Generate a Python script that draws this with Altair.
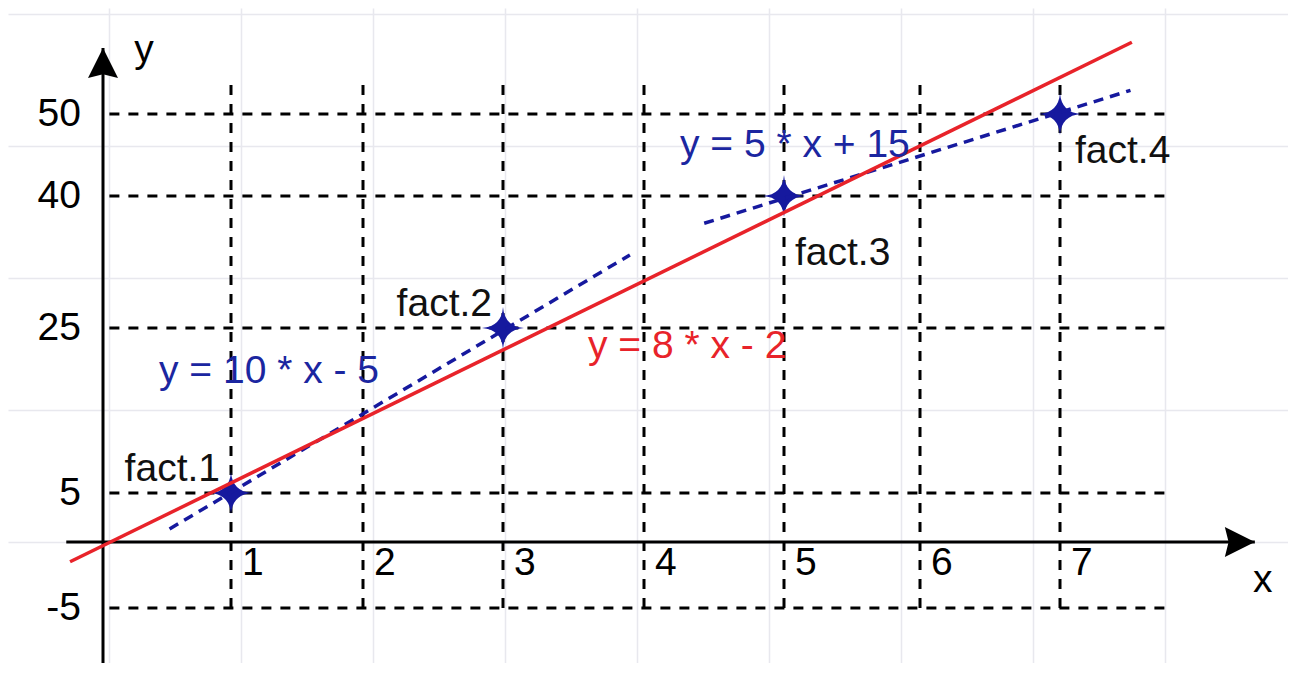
import altair as alt
import pandas as pd

# ---------------- data ----------------
fact_labels = ["fact.1", "fact.2", "fact.3", "fact.4"]
fact_x = [1, 3, 5, 7]
fact_y = [5, 25, 40, 50]

x_ticks = [1, 2, 3, 4, 5, 6, 7]
y_ticks = [50, 40, 25, 5, -5]
y_tick_labels = ["50", "40", "25", "5", "-5"]

red_x = [-0.26, 7.52]
red_y = [-1.5, 58.8]
blue1_x = [0.52, 3.90]
blue1_y = [1.33, 33.3]
blue2_x = [4.43, 7.51]
blue2_y = [36.9, 52.9]

eq_texts = ["y = 10 * x - 5", "y = 8 * x - 2", "y = 5 * x + 15"]

grid_h_span = [0.05, 7.76]     # extent of the horizontal dashed lines (x)
grid_v_span = [-5, 53.8]       # extent of the vertical dashed lines (y)
x_axis_span = [-0.29, 8.41]
y_axis_span = [-10, 58.1]
axis_names = ["x", "y"]

# ---------------- styling ----------------
FONT = "Liberation Sans"
FS = 39
BLUE = "#16199e"
BLUE_TXT = "#1b26a0"
RED = "#e8232a"
W, H = 1280, 655

# hand-drawn (uneven) spacing of the original grid -> piecewise linear scales
XS = alt.Scale(domain=[-0.75, 0, 1, 2, 3, 4, 5, 6, 7, 8.65],
               range=[0, 95, 223, 355, 495, 636, 776, 912, 1052, W],
               nice=False, zero=False)
YS = alt.Scale(domain=[-10, -5, 0, 5, 25, 40, 50, 63],
               range=[H, 600, 534, 485, 320, 188, 106, 0],
               nice=False, zero=False)


def X(f):
    return alt.X(f, type="quantitative", scale=XS, axis=None)


def Y(f):
    return alt.Y(f, type="quantitative", scale=YS, axis=None)


# ---------------- background graph paper ----------------
paper = alt.Chart(pd.DataFrame({"p": [0]})).mark_point(opacity=0).encode(
    x=alt.X("p:Q", scale=alt.Scale(domain=[0, W], nice=False, zero=False),
            axis=alt.Axis(values=list(range(101, W, 132)), grid=True, labels=False,
                          ticks=False, domain=False, title=None,
                          gridColor="#e8e8ee", gridWidth=1.5)),
    y=alt.Y("p:Q", scale=alt.Scale(domain=[0, H], reverse=True, nice=False, zero=False),
            axis=alt.Axis(values=list(range(6, H, 132)), grid=True, labels=False,
                          ticks=False, domain=False, title=None,
                          gridColor="#e8e8ee", gridWidth=1.5)),
)

# ---------------- dashed reference grid ----------------
grid_rows = []
for t in y_ticks:
    grid_rows.append({"x": grid_h_span[0], "x2": grid_h_span[1], "y": t, "y2": t})
for t in x_ticks:
    grid_rows.append({"x": t, "x2": t, "y": grid_v_span[0], "y2": grid_v_span[1]})
grid = alt.Chart(pd.DataFrame(grid_rows)).mark_rule(
    color="black", strokeWidth=3, strokeDash=[10, 9]
).encode(x=X("x"), x2="x2", y=Y("y"), y2="y2")

# ---------------- axes with arrows ----------------
axes_df = pd.DataFrame({
    "x": [x_axis_span[0], 0], "x2": [x_axis_span[1], 0],
    "y": [0, y_axis_span[0]], "y2": [0, y_axis_span[1]],
})
axes = alt.Chart(axes_df).mark_rule(color="black", strokeWidth=3).encode(
    x=X("x"), x2="x2", y=Y("y"), y2="y2")

tips_df = pd.DataFrame({
    "x": [x_axis_span[1], 0], "y": [0, y_axis_span[1]],
    "dir": ["right", "up"], "name": axis_names,
})
ARROW_R = "M0,0 L-2,-1 L-1.75,0 L-2,1 Z"
ARROW_U = "M0,0 L1,2 L0,1.75 L-1,2 Z"
arrows = alt.Chart(tips_df).mark_point(filled=True, opacity=1, color="black", strokeWidth=0).encode(
    x=X("x"), y=Y("y"),
    shape=alt.Shape("dir:N", scale=alt.Scale(domain=["right", "up"], range=[ARROW_R, ARROW_U]),
                    legend=None),
    size=alt.value(900),
)
x_name = alt.Chart(tips_df).transform_filter(alt.datum.dir == "right").mark_text(
    font=FONT, fontSize=FS, color="black", align="center", baseline="alphabetic", dx=8, dy=50
).encode(x=X("x"), y=Y("y"), text="name:N")
y_name = alt.Chart(tips_df).transform_filter(alt.datum.dir == "up").mark_text(
    font=FONT, fontSize=FS, color="black", align="center", baseline="alphabetic", dx=41, dy=14
).encode(x=X("x"), y=Y("y"), text="name:N")

# tick labels
xt = alt.Chart(pd.DataFrame({"x": x_ticks, "lab": [str(v) for v in x_ticks]})).transform_calculate(
    y="0").mark_text(font=FONT, fontSize=FS, color="black", align="left",
                     baseline="alphabetic", dx=11, dy=33
                     ).encode(x=X("x"), y=Y("y"), text="lab:N")
yt = alt.Chart(pd.DataFrame({"y": y_ticks, "lab": y_tick_labels})).transform_calculate(
    x="0").mark_text(font=FONT, fontSize=FS, color="black", align="right",
                     baseline="middle", dx=-22
                     ).encode(x=X("x"), y=Y("y"), text="lab:N")

# ---------------- lines ----------------
red_df = pd.DataFrame({"x": red_x, "y": red_y})
red = alt.Chart(red_df).mark_line(color=RED, strokeWidth=3.5).encode(x=X("x"), y=Y("y"))

blue_df = pd.DataFrame({
    "x": blue1_x + blue2_x, "y": blue1_y + blue2_y,
    "s": ["a", "a", "b", "b"],
})
blue = alt.Chart(blue_df).mark_line(color=BLUE, strokeWidth=3.5, strokeDash=[10, 7]).encode(
    x=X("x"), y=Y("y"), detail="s:N")

# ---------------- fact points ----------------
pts = pd.DataFrame({"x": fact_x, "y": fact_y, "label": fact_labels})
STAR = "M0,-1 Q0.07,-0.07 1,0 Q0.07,0.07 0,1 Q-0.07,0.07 -1,0 Q-0.07,-0.07 0,-1 Z"
stars = alt.Chart(pts).mark_point(shape=STAR, filled=True, opacity=1, color=BLUE,
                                  size=1764, strokeWidth=0).encode(x=X("x"), y=Y("y"))


def pt_text(label, text, color, **kw):
    return alt.Chart(pts).transform_filter(alt.datum.label == label).mark_text(
        font=FONT, fontSize=FS, color=color, baseline="alphabetic", **kw
    ).encode(x=X("x"), y=Y("y"), text=text)


labels = [
    pt_text("fact.1", "label:N", "#111111", align="right", dx=-11, dy=-12),
    pt_text("fact.2", "label:N", "#111111", align="right", dx=-11, dy=-12),
    pt_text("fact.3", "label:N", "#111111", align="left", dx=11, dy=69),
    pt_text("fact.4", "label:N", "#111111", align="left", dx=15, dy=49),
    pt_text("fact.1", alt.value(eq_texts[0]), BLUE_TXT, align="left", dx=-72, dy=-110),
    pt_text("fact.2", alt.value(eq_texts[1]), RED, align="left", dx=85, dy=30),
    pt_text("fact.3", alt.value(eq_texts[2]), BLUE_TXT, align="left", dx=-104, dy=-39),
]

main = alt.layer(grid, axes, arrows, stars, blue, red, xt, yt, x_name, y_name, *labels)

chart = alt.layer(paper, main).resolve_scale(x="independent", y="independent").properties(
    width=W, height=H, padding=0, autosize=alt.AutoSizeParams(type="none"),
    background="white",
).configure_view(stroke=None)

chart.save("out.html", embed_options={"renderer": "svg", "actions": False})
